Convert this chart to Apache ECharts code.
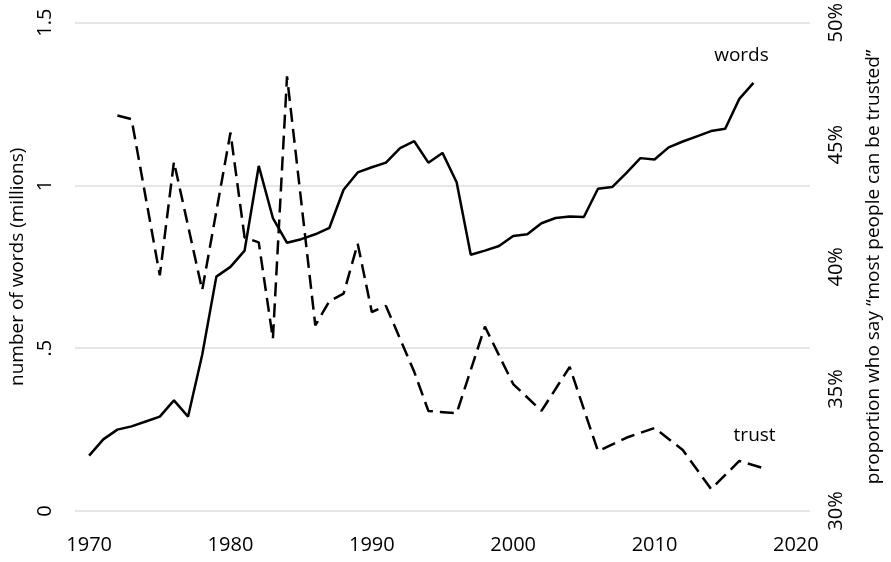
<!DOCTYPE html>
<html>
<head>
<meta charset="utf-8">
<script src="https://cdn.jsdelivr.net/npm/echarts@6/dist/echarts.min.js"></script>
<style>
html,body{margin:0;padding:0;background:#fff;}
#chart{width:891px;height:562px;}
</style>
</head>
<body>
<div id="chart"></div>
<script>
// words (millions) by year
const wordYears = [1970,1971,1972,1973,1974,1975,1976,1977,1978,1979,1980,1981,1982,1983,1984,1985,1986,1987,1988,1989,1990,1991,1992,1993,1994,1995,1996,1997,1998,1999,2000,2001,2002,2003,2004,2005,2006,2007,2008,2009,2010,2011,2012,2013,2014,2015,2016,2017];
const wordValues = [0.17,0.22,0.25,0.26,0.275,0.29,0.34,0.29,0.48,0.72,0.75,0.80,1.06,0.90,0.824,0.835,0.85,0.87,0.987,1.04,1.056,1.07,1.115,1.136,1.07,1.10,1.01,0.787,0.80,0.814,0.845,0.85,0.884,0.90,0.905,0.903,0.99,0.995,1.038,1.084,1.08,1.117,1.135,1.151,1.167,1.174,1.266,1.315];
// proportion who say "most people can be trusted" (%)
const trustYears = [1972,1973,1975,1976,1978,1980,1981,1982,1983,1984,1986,1987,1988,1989,1990,1991,1993,1994,1996,1998,2000,2002,2004,2006,2008,2010,2012,2014,2016,2018];
const trustValues = [46.2,46.05,39.65,44.3,39.05,45.5,41.2,41.0,37.05,47.8,37.6,38.6,38.9,40.95,38.15,38.4,35.7,34.1,34.0,37.55,35.2,34.1,35.9,32.45,33.0,33.4,32.5,30.9,32.05,31.7];
// tick labels
const xTickLabels = [1970,1980,1990,2000,2010,2020];
const leftTickLabels = {0:'0',0.5:'.5',1:'1',1.5:'1.5'};
const rightTickLabels = {30:'30%',35:'35%',40:'40%',45:'45%',50:'50%'};

const FONT = 'Open Sans';

const wordsData = wordYears.map((y,i)=>[y,wordValues[i]]);
const trustData = trustYears.map((y,i)=>[y,trustValues[i]]);

const chart = echarts.init(document.getElementById('chart'), null, {renderer:'canvas'});
chart.setOption({
  animation:false,
  backgroundColor:'#fff',
  grid:{left:74,right:79,top:22,bottom:51},
  xAxis:{
    type:'value', min:1969, max:2021, interval:1,
    axisLine:{show:false}, axisTick:{show:false}, splitLine:{show:false},
    axisLabel:{
      color:'#000', fontFamily:FONT, fontSize:20, margin:24,
      formatter:v=> xTickLabels.includes(v) ? String(v) : ''
    }
  },
  yAxis:[
    {
      type:'value', min:0, max:1.5, interval:0.5, position:'left',
      name:'number of words (millions)', nameLocation:'middle', nameRotate:90, nameGap:48,
      nameTextStyle:{color:'#000', fontFamily:FONT, fontSize:19},
      axisLine:{show:false}, axisTick:{show:false},
      splitLine:{show:true, lineStyle:{color:'#e6e6e6', width:2}},
      axisLabel:{color:'#000', fontFamily:FONT, fontSize:20, rotate:90, margin:20,
        formatter:v=> leftTickLabels[v] !== undefined ? leftTickLabels[v] : ''}
    },
    {
      type:'value', min:30, max:50, interval:5, position:'right',
      name:'proportion who say \u201cmost people can be trusted\u201d', nameLocation:'middle', nameRotate:90, nameGap:54,
      nameTextStyle:{color:'#000', fontFamily:FONT, fontSize:19},
      axisLine:{show:false}, axisTick:{show:false}, splitLine:{show:false},
      axisLabel:{color:'#000', fontFamily:FONT, fontSize:20, rotate:90, margin:16,
        formatter:v=> rightTickLabels[v] !== undefined ? rightTickLabels[v] : ''}
    }
  ],
  series:[
    {name:'words', type:'line', yAxisIndex:0, data:wordsData, showSymbol:false, symbol:'none',
     lineStyle:{color:'#000', width:2.5}, z:3,
     endLabel:{show:true, formatter:'words', color:'#000', fontFamily:FONT, fontSize:19,
       align:'center', verticalAlign:'middle', distance:0, offset:[-12,-27]}},
    {name:'trust', type:'line', yAxisIndex:1, data:trustData, showSymbol:false, symbol:'none',
     lineStyle:{color:'#000', width:2.5, type:[14,7]}, z:2,
     endLabel:{show:true, formatter:'trust', color:'#000', fontFamily:FONT, fontSize:19,
       align:'center', verticalAlign:'middle', distance:0, offset:[-13,-34]}}
  ]
});
</script>
</body>
</html>
